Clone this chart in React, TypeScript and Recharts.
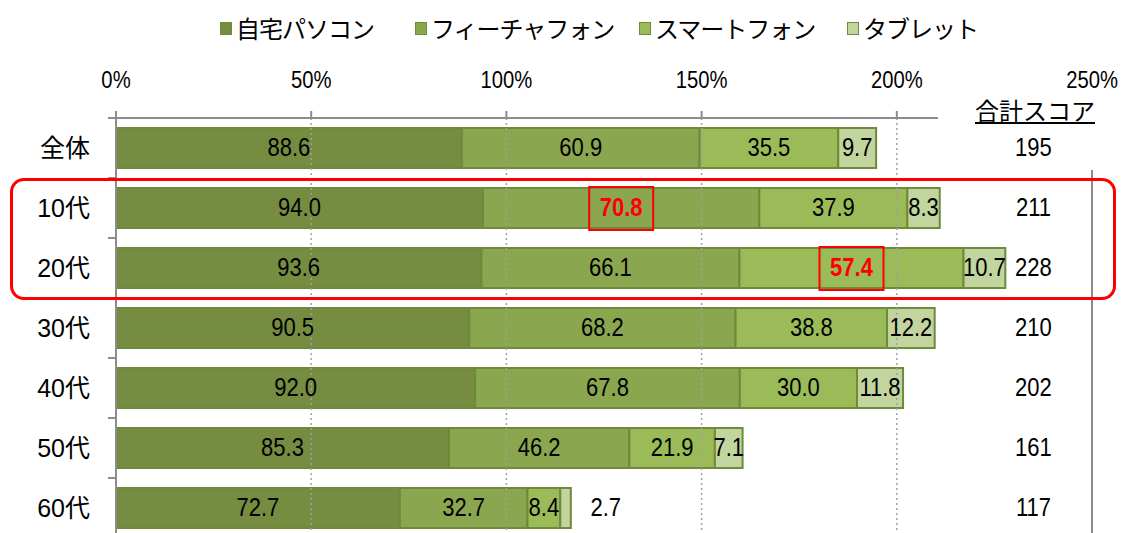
import React from "react"
import { BarChart, Bar, XAxis, YAxis, LabelList, ReferenceLine } from "recharts"

const categories = ["全体", "10代", "20代", "30代", "40代", "50代", "60代"]
const pc = [88.6, 94.0, 93.6, 90.5, 92.0, 85.3, 72.7]
const feature = [60.9, 70.8, 66.1, 68.2, 67.8, 46.2, 32.7]
const smart = [35.5, 37.9, 57.4, 38.8, 30.0, 21.9, 8.4]
const tablet = [9.7, 8.3, 10.7, 12.2, 11.8, 7.1, 2.7]
const totals = [195, 211, 228, 210, 202, 161, 117]
const xTicks = [0, 50, 100, 150, 200, 250]
const gridValues = [50, 100, 150, 200]
// which label gets the red box: [row, series]
const highlights = [
  ["10代", "feature"],
  ["20代", "smart"],
]

const series = [
  { key: "pc", name: "自宅パソコン", color: "#758C41" },
  { key: "feature", name: "フィーチャフォン", color: "#8AA64F" },
  { key: "smart", name: "スマートフォン", color: "#9BBB59" },
  { key: "tablet", name: "タブレット", color: "#C2D59E" },
]
const legendLeft = [220, 415, 639, 847]

const data = categories.map((name, i) => ({
  name,
  pc: pc[i],
  feature: feature[i],
  smart: smart[i],
  tablet: tablet[i],
  total: totals[i],
}))

const NUM_FONT = "'Liberation Sans', Arial, 'Noto Sans CJK JP', sans-serif"
const JP_FONT = "'Noto Sans CJK JP', sans-serif"
const GRAY = "#8c8c8c"
const TOTAL_AT = 235

// narrow-looking text, like the Excel original
function NText(props: any) {
  const { x, y, size = 25, anchor = "middle", fill = "#000", bold = false, sx = 0.88, children } = props
  return (
    <text
      transform={`translate(${x},${y}) scale(${sx},1)`}
      x={0}
      y={0}
      textAnchor={anchor}
      dominantBaseline="central"
      fontSize={size}
      fontFamily={NUM_FONT}
      fontWeight={bold ? "bold" : "normal"}
      fill={fill}
    >
      {children}
    </text>
  )
}

function CategoryTick(props: any) {
  const { x, y, payload } = props
  return (
    <g>
      <NText x={x - 26} y={y} anchor="end" size={25} sx={1}>
        {payload.value}
      </NText>
      <line x1={x - 8} x2={x} y1={y - 30} y2={y - 30} stroke={GRAY} strokeWidth={2} />
    </g>
  )
}

function PercentTick(props: any) {
  const { x, y, payload } = props
  return (
    <NText x={x} y={y - 19} size={23}>
      {`${payload.value}%`}
    </NText>
  )
}

function makeLabel(key: string) {
  return (props: any) => {
    const { x, y, width, height, value, index } = props
    const row = categories[index]
    const hot = highlights.some(([r, k]) => r === row && k === key)
    let cx = x + width / 2
    if (key === "tablet" && value < 5) cx = x + width + 35
    const cy = y + height / 2
    const out = [
      <NText key="v" x={cx} y={cy} bold={hot} fill={hot ? "#FF0000" : "#000"}>
        {value.toFixed(1)}
      </NText>,
    ]
    if (hot) {
      out.push(<rect key="b" x={cx - 32} y={cy - 21} width={64} height={43} fill="none" stroke="#FF0000" strokeWidth={2} />)
    }
    if (key === "tablet") {
      const k = width / value
      const sum = data[index].pc + data[index].feature + data[index].smart + value
      const tx = x + width + (TOTAL_AT - sum) * k
      out.push(
        <NText key="t" x={tx} y={cy}>
          {totals[index]}
        </NText>
      )
    }
    return <g>{out}</g>
  }
}

function RightLine(props: any) {
  const { x1, y1, x2, y2 } = props
  return <line x1={x1} x2={x2} y1={y1 + 52} y2={y2} stroke={GRAY} strokeWidth={2} />
}

export default function App() {
  return (
    <div style={{ position: "absolute", left: 0, top: 0, width: 1123, height: 533, overflow: "hidden", background: "#fff" }}>
      <BarChart
        width={1123}
        height={545}
        data={data}
        layout="vertical"
        margin={{ top: 0, right: 31, left: 0, bottom: 7 }}
        barSize={40}
      >
        <XAxis
          type="number"
          orientation="top"
          domain={[0, 250]}
          ticks={xTicks}
          height={118}
          tick={<PercentTick />}
          tickSize={7}
          tickMargin={12}
          axisLine={{ stroke: GRAY, strokeWidth: 2 }}
          tickLine={{ stroke: GRAY, strokeWidth: 2 }}
        />
        <YAxis
          type="category"
          dataKey="name"
          width={116}
          axisLine={{ stroke: GRAY, strokeWidth: 2 }}
          tickLine={false}
          tickSize={0}
          tickMargin={0}
          tick={<CategoryTick />}
        />
        {gridValues.map((v) => (
          <ReferenceLine key={v} x={v} stroke="#a0a0a0" strokeWidth={1.5} strokeDasharray="2 3" />
        ))}
        <ReferenceLine x={250} shape={<RightLine />} />
        {series.map((s) => (
          <Bar
            key={s.key}
            dataKey={s.key}
            name={s.name}
            stackId="a"
            fill={s.color}
            stroke="#6E8A3B"
            strokeWidth={2}
            isAnimationActive={false}
          >
            <LabelList dataKey={s.key} content={makeLabel(s.key)} />
          </Bar>
        ))}
      </BarChart>

      {series.map((s, i) => (
        <div
          key={s.key}
          style={{
            position: "absolute",
            left: legendLeft[i],
            top: 12,
            display: "flex",
            alignItems: "center",
            fontFamily: JP_FONT,
            fontSize: 24,
            lineHeight: "32px",
            letterSpacing: -1,
            color: "#000",
            whiteSpace: "nowrap",
          }}
        >
          <span style={{ width: 10, height: 11, background: s.color, border: "1px solid #6E8A3B", marginRight: 4 }} />
          <span>{s.name}</span>
        </div>
      ))}

      <div
        style={{
          position: "absolute",
          left: 938,
          top: 96,
          width: 170,
          height: 30,
          background: "#fff",
        }}
      />
      <div
        style={{
          position: "absolute",
          left: 975,
          top: 96,
          fontFamily: JP_FONT,
          fontSize: 24,
          lineHeight: "28px",
          textDecoration: "underline",
          textUnderlineOffset: 2,
          color: "#000",
        }}
      >
        合計スコア
      </div>

      <div
        style={{
          position: "absolute",
          left: 10,
          top: 178,
          width: 1100,
          height: 116,
          border: "3px solid #FF0000",
          borderRadius: 14,
          pointerEvents: "none",
        }}
      />
    </div>
  )
}
